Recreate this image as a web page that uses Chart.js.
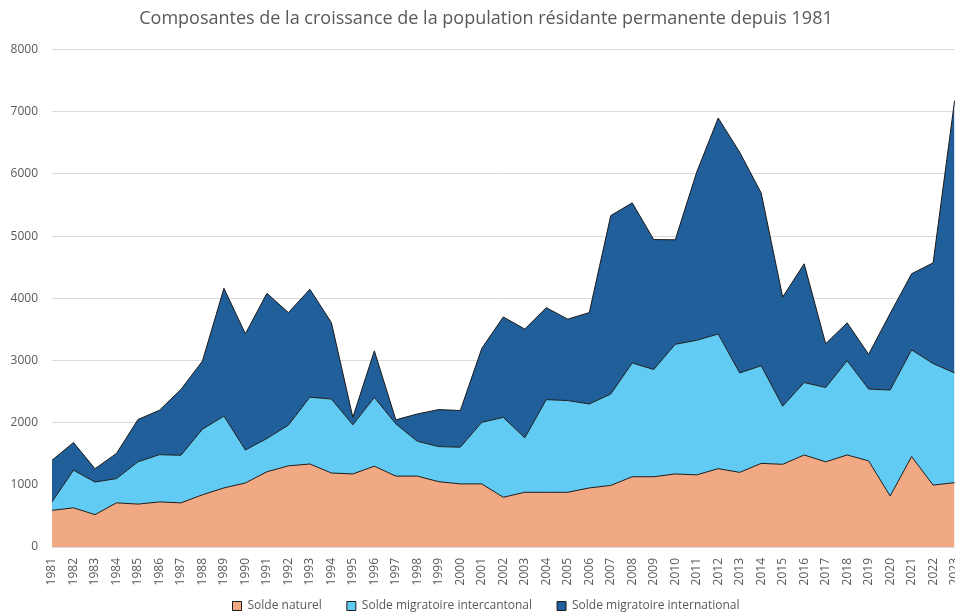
<!DOCTYPE html>
<html>
<head>
<meta charset="utf-8">
<script src="https://cdn.jsdelivr.net/npm/chart.js@4/dist/chart.umd.min.js"></script>
<style>
  html, body { margin: 0; padding: 0; background: #fff; overflow: hidden; }
  #wrap { position: absolute; left: 0; top: 0; width: 972px; height: 613px; }
</style>
</head>
<body>
<div id="wrap"><canvas id="graf-croissance"></canvas></div>
<script>
// annees
var annees = ['1981','1982','1983','1984','1985','1986','1987','1988','1989','1990',
  '1991','1992','1993','1994','1995','1996','1997','1998','1999','2000',
  '2001','2002','2003','2004','2005','2006','2007','2008','2009','2010',
  '2011','2012','2013','2014','2015','2016','2017','2018','2019','2020',
  '2021','2022','2023']

// composantes
var soldeNaturel = [590,630,520,710,690,725,710,840,950,1030,
  1210,1305,1335,1190,1175,1300,1140,1140,1050,1015,
  1015,800,880,880,880,950,990,1130,1130,1175,
  1160,1260,1200,1345,1330,1480,1370,1480,1385,820,
  1455,995,1035]

var soldeIntercantonal = [135,605,525,390,680,760,765,1055,1155,530,
  535,655,1075,1190,790,1105,840,560,565,590,
  990,1285,875,1490,1475,1350,1470,1830,1725,2085,
  2165,2165,1600,1570,935,1165,1195,1515,1155,1705,
  1715,1955,1765]

var soldeInternational = [670,445,215,405,680,715,1060,1095,2055,1870,
  2335,1810,1735,1230,120,750,65,440,595,590,
  1190,1615,1750,1480,1310,1470,2870,2575,2090,1680,
  2705,3475,3550,2780,1755,1910,705,610,560,1230,
  1225,1620,4380]

var yTicks = [0,1000,2000,3000,4000,5000,6000,7000,8000]

// legenda: espaco horizontal largo mas altura pequena
var ajusteLegenda = {
    id: 'ajusteLegenda',
    beforeLayout: function(chart){
        var lg = chart.legend
        if(lg && !lg._fitAjustado){
            var fitOrig = lg.fit
            lg.fit = function(){ fitOrig.call(this); this.height = 16 }
            lg._fitAjustado = true
        }
    },
    afterLayout: function(chart){
        // sobe so o topo (o desenho da legenda e recortado na sua caixa)
        chart.legend.top -= 22
    }
}

function gerarGrafico(){
    var txt = '#595959'
    var contorno = '#1b1b1b'

    new Chart(
        document.getElementById('graf-croissance'),
        {
            type: 'line',
            data: {
                labels: annees,
                datasets: [
                    { label: 'Solde naturel', data: soldeNaturel, backgroundColor: '#f1a983', borderColor: contorno, fill: 'origin' },
                    { label: 'Solde migratoire intercantonal', data: soldeIntercantonal, backgroundColor: '#61cbf3', borderColor: contorno, fill: '-1' },
                    { label: 'Solde migratoire international', data: soldeInternational, backgroundColor: '#215f9a', borderColor: contorno, fill: '-1' }
                ]
            },
            plugins: [ajusteLegenda],
            options: {
                responsive: true,
                maintainAspectRatio: false,
                animation: false,
                elements: {
                    point: { radius: 0 },
                    line: { borderWidth: 1, tension: 0 }
                },
                layout: { padding: { left: 0, right: 0, top: 8, bottom: 0 } },
                plugins: {
                    title: {
                        display: true,
                        text: 'Composantes de la croissance de la population résidante permanente depuis 1981',
                        color: txt,
                        font: { family: 'Open Sans', size: 18, weight: 'normal' },
                        padding: { top: 0, bottom: 20 }
                    },
                    legend: {
                        position: 'bottom',
                        labels: {
                            color: txt,
                            font: { family: 'Open Sans', size: 12 },
                            boxWidth: 9,
                            boxHeight: 9,
                            padding: 25
                        }
                    },
                    tooltip: { enabled: false }
                },
                scales: {
                    x: {
                        grid: { display: false },
                        border: { color: '#d9d9d9' },
                        afterFit: function(s){ s.height = 50 },
                        ticks: {
                            color: txt,
                            font: { family: 'Open Sans', size: 12 },
                            maxRotation: 90,
                            minRotation: 90,
                            autoSkip: false,
                            padding: 3
                        }
                    },
                    y: {
                        stacked: true,
                        min: 0,
                        max: 8000,
                        afterBuildTicks: function(s){ s.ticks = yTicks.map(function(v){ return { value: v } }) },
                        afterFit: function(s){ s.width = 52 },
                        grid: { color: '#d9d9d9', drawTicks: false },
                        border: { display: false },
                        ticks: {
                            color: txt,
                            font: { family: 'Open Sans', size: 12 },
                            padding: 14,
                            callback: function(v){ return String(v) }
                        }
                    }
                }
            }
        }
    )
}

gerarGrafico()
</script>
</body>
</html>
